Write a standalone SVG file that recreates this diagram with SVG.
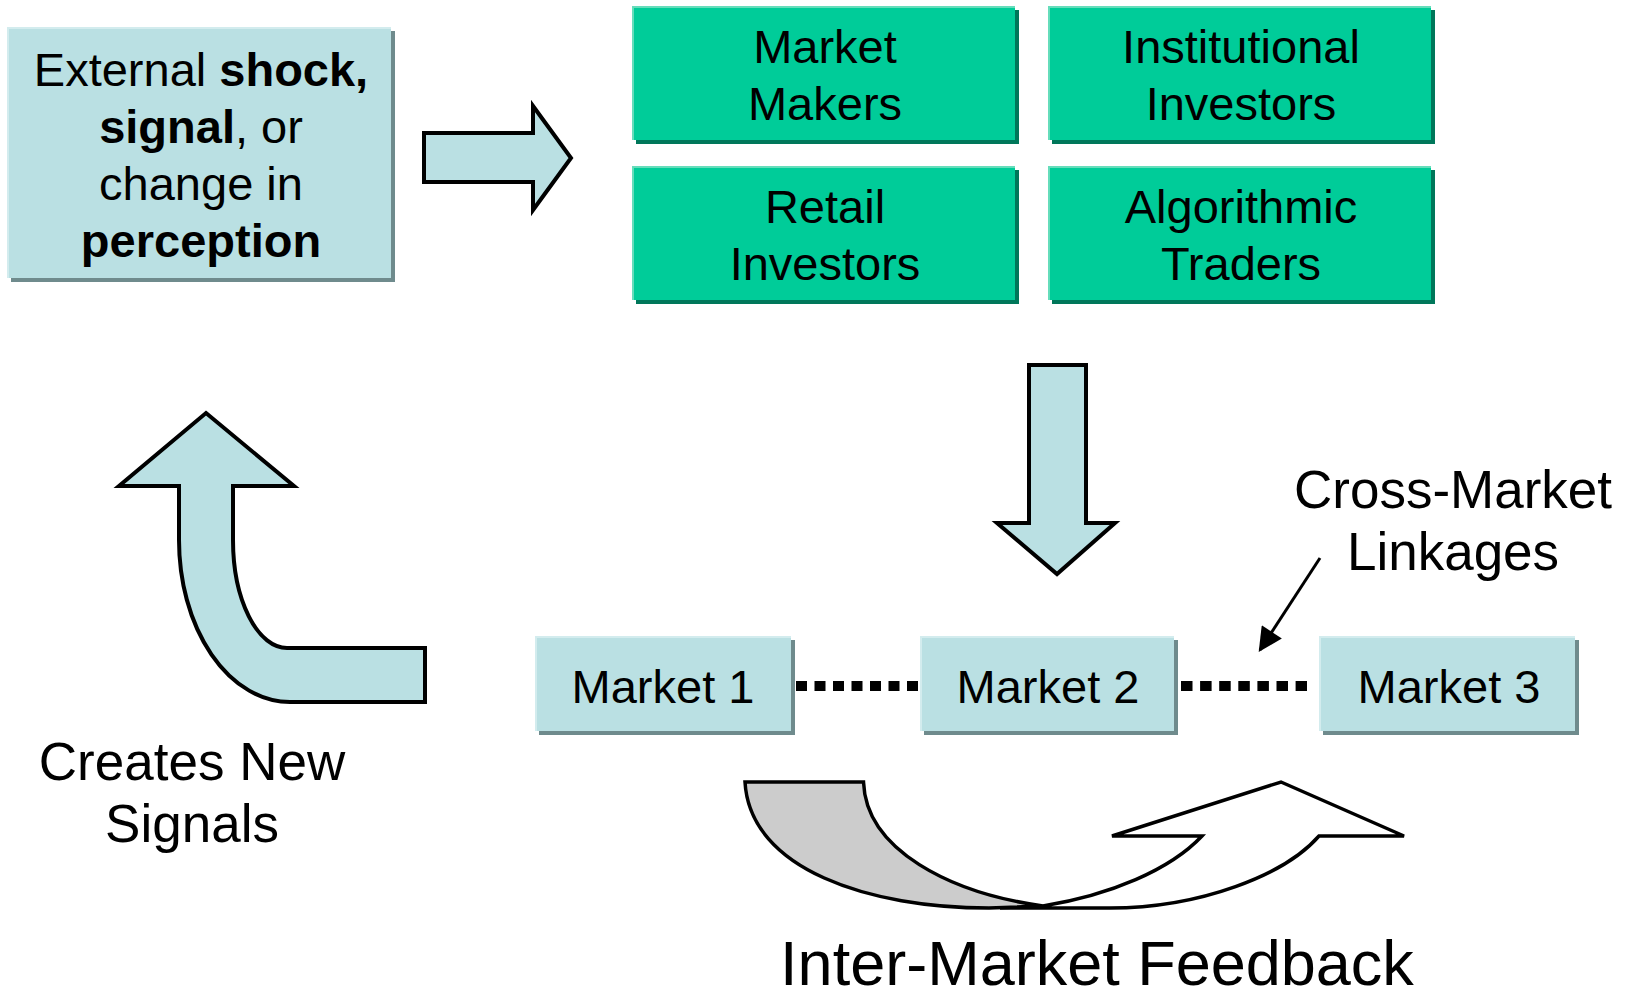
<svg xmlns="http://www.w3.org/2000/svg" width="1631" height="1000" viewBox="0 0 1631 1000">
<defs>
<style>
text{font-family:"Liberation Sans",Arial,sans-serif;fill:#000;text-anchor:middle}
.blue{fill:#BAE0E3}
.bshadow{fill:#6F8B8D}
.bhi{fill:none;stroke:#D3ECEE;stroke-width:2}
.green{fill:#00CC99}
.gshadow{fill:#00775A}
.ghi{fill:none;stroke:#66DDBB;stroke-width:2}
.t47{font-size:47px}
.big{font-size:53px}
.arrowshape{fill:#BAE0E3;stroke:#000;stroke-width:4;stroke-linejoin:miter}
.dots{stroke:#000;stroke-width:10;stroke-dasharray:11 7.5;fill:none}
</style>
<marker id="ah" viewBox="0 0 10 10" refX="9" refY="5" markerWidth="11" markerHeight="8" markerUnits="strokeWidth" orient="auto">
<path d="M0,0 L10,5 L0,10 Z" fill="#000"/>
</marker>
</defs>
<rect width="1631" height="1000" fill="#fff"/>

<g id="external">
<rect class="bshadow" x="11" y="31" width="384" height="251"/>
<rect class="blue" x="7" y="27" width="384" height="251"/>
<polyline class="bhi" points="8,278 8,28 391,28"/>
<text class="t47" x="201" y="86">External <tspan font-weight="bold">shock,</tspan></text>
<text class="t47" x="201" y="143"><tspan font-weight="bold">signal</tspan>, or</text>
<text class="t47" x="201" y="200">change in</text>
<text class="t47" x="201" y="257" font-weight="bold">perception</text>
</g>

<g id="market-makers">
<rect class="gshadow" x="636" y="10" width="383" height="134"/>
<rect class="green" x="632" y="6" width="383" height="134"/>
<polyline class="ghi" points="633,140 633,7 1015,7"/>
<text class="t47" x="825" y="63">Market</text>
<text class="t47" x="825" y="120">Makers</text>
</g>
<g id="institutional">
<rect class="gshadow" x="1052" y="10" width="383" height="134"/>
<rect class="green" x="1048" y="6" width="383" height="134"/>
<polyline class="ghi" points="1049,140 1049,7 1431,7"/>
<text class="t47" x="1241" y="63">Institutional</text>
<text class="t47" x="1241" y="120">Investors</text>
</g>
<g id="retail">
<rect class="gshadow" x="636" y="170" width="383" height="134"/>
<rect class="green" x="632" y="166" width="383" height="134"/>
<polyline class="ghi" points="633,300 633,167 1015,167"/>
<text class="t47" x="825" y="223">Retail</text>
<text class="t47" x="825" y="280">Investors</text>
</g>
<g id="algorithmic">
<rect class="gshadow" x="1052" y="170" width="383" height="134"/>
<rect class="green" x="1048" y="166" width="383" height="134"/>
<polyline class="ghi" points="1049,300 1049,167 1431,167"/>
<text class="t47" x="1241" y="223">Algorithmic</text>
<text class="t47" x="1241" y="280">Traders</text>
</g>

<g id="market1">
<rect class="bshadow" x="539" y="640" width="256" height="95"/>
<rect class="blue" x="535" y="636" width="256" height="95"/>
<polyline class="bhi" points="536,731 536,637 791,637"/>
<text class="t47" x="663" y="703">Market 1</text>
</g>
<g id="market2">
<rect class="bshadow" x="924" y="640" width="254" height="95"/>
<rect class="blue" x="920" y="636" width="254" height="95"/>
<polyline class="bhi" points="921,731 921,637 1174,637"/>
<text class="t47" x="1048" y="703">Market 2</text>
</g>
<g id="market3">
<rect class="bshadow" x="1323" y="640" width="256" height="95"/>
<rect class="blue" x="1319" y="636" width="256" height="95"/>
<polyline class="bhi" points="1320,731 1320,637 1575,637"/>
<text class="t47" x="1449" y="703">Market 3</text>
</g>

<g id="connectors">
<path class="arrowshape" d="M424,133 L533,133 L533,106 L571,158 L533,210 L533,182 L424,182 Z"/>
<path class="arrowshape" d="M1029,365 L1086,365 L1086,523 L1115,523 L1057,574 L997,523 L1029,523 Z"/>
<path class="arrowshape" d="M206,413 L294,486 L233,486 L233,540 A54,108 0 0 0 287,648 L425,648 L425,702 L290,702 A111,162 0 0 1 179,540 L179,486 L119,486 Z"/>
<line class="dots" x1="796" y1="686" x2="918" y2="686"/>
<line class="dots" x1="1181" y1="686" x2="1307" y2="686" style="stroke-dasharray:11.5 7.6"/>
<line x1="1320" y1="558" x2="1260" y2="650" stroke="#000" stroke-width="3" marker-end="url(#ah)"/>
<path d="M1043,906 C1110,895 1170,870 1202,836 L1112,836 L1281,782 L1404,836 L1319,836 C1285,875 1200,908 1110,908 L1000,908" fill="#fff" stroke="#000" stroke-width="3.5" stroke-linejoin="miter"/>
<path d="M745,782 L863.5,782 C866,850 950,893 1043,906 L989,908 C870,908 750,870 745,782 Z" fill="#CCCCCC" stroke="#000" stroke-width="3.5"/>
</g>

<g id="labels">
<text class="big" x="1453" y="508">Cross-Market</text>
<text class="big" x="1453" y="570">Linkages</text>
<text class="big" x="192" y="780">Creates New</text>
<text class="big" x="192" y="842">Signals</text>
<text x="1097" y="985" font-size="63">Inter-Market Feedback</text>
</g>
</svg>
